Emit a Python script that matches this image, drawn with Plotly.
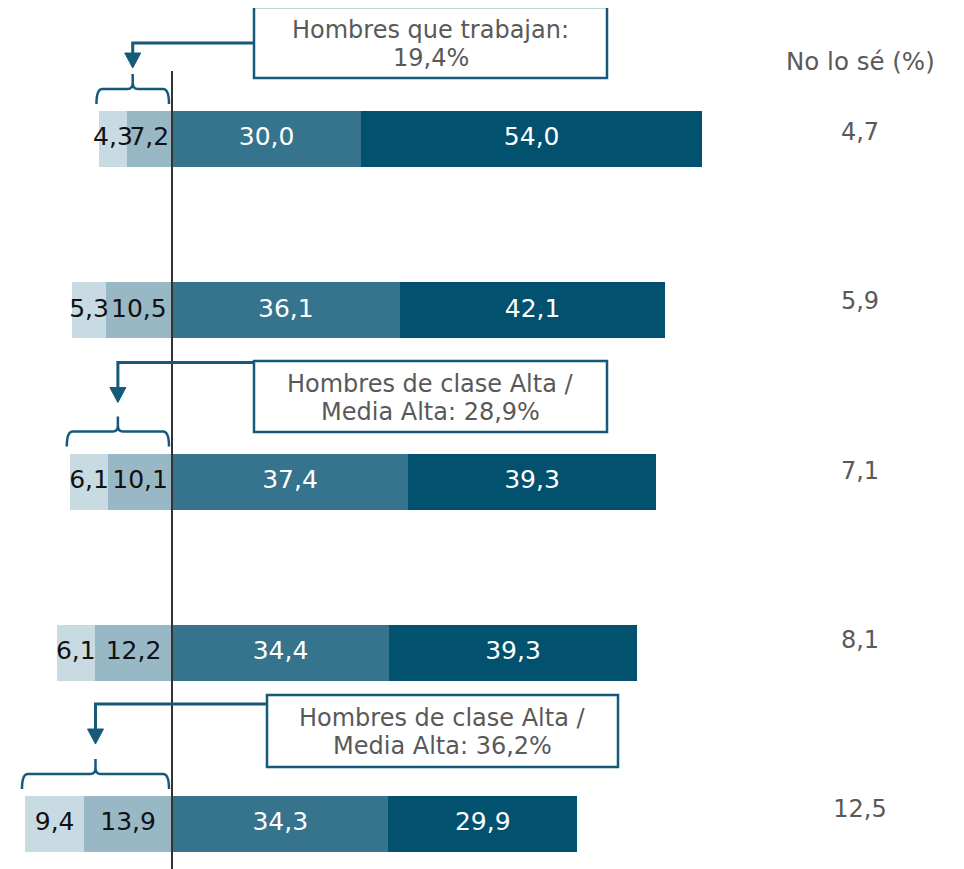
import plotly.graph_objects as go

# ---------------- data ----------------
rows = ["r1", "r2", "r3", "r4", "r5"]
neg_outer = [4.3, 5.3, 6.1, 6.1, 9.4]      # lightest segment (far left)
neg_inner = [7.2, 10.5, 10.1, 12.2, 13.9]  # light segment next to zero
pos_inner = [30.0, 36.1, 37.4, 34.4, 34.3] # mid segment
pos_outer = [54.0, 42.1, 39.3, 39.3, 29.9] # dark segment
no_lo_se = [4.7, 5.9, 7.1, 8.1, 12.5]
header_text = "No lo sé (%)"
callouts = [
    (0, ["Hombres que trabajan:", "19,4%"]),
    (2, ["Hombres de clase Alta /", "Media Alta: 28,9%"]),
    (4, ["Hombres de clase Alta /", "Media Alta: 36,2%"]),
]

# ---------------- style ----------------
C_LIGHTEST = "#C9DBE2"
C_LIGHT = "#99B8C6"
C_MID = "#36738D"
C_DARK = "#02516F"
C_LINE = "#155B79"
C_TEXT = "#595959"
FONT = "DejaVu Sans"

W, H = 964, 869
PAGE_OFF = 8                        # default body margin of the html page
X0_PX, SCALE = 172.0, 6.31          # zero line position (page px) and px per unit
Y0_PX, ROW_PX = 139.0, 171.25       # first row centre (page px) and row spacing

def px_x(p):
    return (p - X0_PX) / SCALE

def px_y(p):
    return (p - Y0_PX) / ROW_PX

def fmt(v):
    return f"{v:.1f}".replace(".", ",")

yidx = list(range(len(rows)))
fig = go.Figure()

bar_w = 56 / ROW_PX
for vals, col, sign in [(neg_inner, C_LIGHT, -1), (neg_outer, C_LIGHTEST, -1),
                        (pos_inner, C_MID, 1), (pos_outer, C_DARK, 1)]:
    fig.add_trace(go.Bar(y=yidx, x=[sign * v for v in vals], orientation="h",
                         marker=dict(color=col, line=dict(width=0)),
                         width=bar_w, hoverinfo="skip", showlegend=False))

# segment labels
lx, ly, lt, lc = [], [], [], []
for i in yidx:
    segs = [(-neg_inner[i] - neg_outer[i] / 2, neg_outer[i], "#111111"),
            (-neg_inner[i] / 2, neg_inner[i], "#111111"),
            (pos_inner[i] / 2, pos_inner[i], "white"),
            (pos_inner[i] + pos_outer[i] / 2, pos_outer[i], "white")]
    for cx, v, c in segs:
        lx.append(cx); ly.append(i); lt.append(fmt(v)); lc.append(c)
fig.add_trace(go.Scatter(x=lx, y=ly, text=lt, mode="text",
                         textfont=dict(family=FONT, size=25, color=lc),
                         hoverinfo="skip", showlegend=False))

# "No lo sé" column
ns_x = px_x(860)
fig.add_trace(go.Scatter(x=[ns_x] * len(rows), y=[i - 0.03 - 0.011 * i for i in yidx],
                         text=[fmt(v) for v in no_lo_se], mode="text",
                         textfont=dict(family=FONT, size=24, color=C_TEXT),
                         hoverinfo="skip", showlegend=False))
fig.add_annotation(x=ns_x, y=px_y(61), text=header_text, showarrow=False,
                   font=dict(family=FONT, size=24.5, color=C_TEXT))

shapes = []
# zero line
shapes.append(dict(type="line", x0=0, x1=0, y0=px_y(71), y1=px_y(H + 20),
                   line=dict(color="#333333", width=2), layer="above"))

# callout geometry (page pixel boxes) per row
box_px = {0: (254, 7, 607, 78), 2: (254, 361, 607, 432), 4: (267, 695, 618, 767)}
line_off = {0: 96, 2: 119, 4: 120}   # arrow line height above row centre
tip_off = {0: 71, 2: 79, 4: 80}

for i, lines in callouts:
    c = Y0_PX + i * ROW_PX
    total = neg_inner[i] + neg_outer[i]
    xl_px = X0_PX - total * SCALE - 3
    xr_px = X0_PX - 3
    xc_px = (xl_px + xr_px) / 2
    yE, yH, yN = c - 35, c - 50, c - 65
    pts = [("M", xl_px, yE), ("Q", xl_px, yH, xl_px + 6, yH), ("L", xc_px - 5, yH),
           ("Q", xc_px, yH, xc_px, yH - 6), ("L", xc_px, yN), ("L", xc_px, yH - 6),
           ("Q", xc_px, yH, xc_px + 5, yH), ("L", xr_px - 6, yH),
           ("Q", xr_px, yH, xr_px, yE)]
    path = ""
    for p in pts:
        if p[0] == "Q":
            path += f"Q{px_x(p[1])},{px_y(p[2])} {px_x(p[3])},{px_y(p[4])} "
        else:
            path += f"{p[0]}{px_x(p[1])},{px_y(p[2])} "
    shapes.append(dict(type="path", path=path, xref="x", yref="y",
                       line=dict(color=C_LINE, width=2.5), layer="above"))
    bx0, by0, bx1, by1 = box_px[i]
    yl = c - line_off[i]
    tip = c - tip_off[i]
    head_top = tip - 15
    shapes.append(dict(type="path",
                       path=f"M{px_x(bx0)},{px_y(yl)} L{px_x(xc_px)},{px_y(yl)} L{px_x(xc_px)},{px_y(head_top)}",
                       line=dict(color=C_LINE, width=3), layer="above"))
    shapes.append(dict(type="path",
                       path=f"M{px_x(xc_px - 8)},{px_y(head_top)} L{px_x(xc_px + 8)},{px_y(head_top)} L{px_x(xc_px)},{px_y(tip)} Z",
                       fillcolor=C_LINE, line=dict(color=C_LINE, width=1), layer="above"))
    shapes.append(dict(type="rect", x0=px_x(bx0), x1=px_x(bx1), y0=px_y(by0), y1=px_y(by1),
                       fillcolor="white", line=dict(color=C_LINE, width=2.5), layer="above"))
    cy = (by0 + by1) / 2
    for k, t in enumerate(lines):
        fig.add_annotation(x=px_x((bx0 + bx1) / 2), y=px_y(cy - 13 + 28 * k), text=t,
                           showarrow=False, align="center",
                           font=dict(family=FONT, size=24, color=C_TEXT))

fig.update_layout(
    width=W, height=H, margin=dict(l=0, r=0, t=0, b=0),
    paper_bgcolor="white", plot_bgcolor="white",
    barmode="relative", bargap=0, shapes=shapes,
    xaxis=dict(range=[px_x(PAGE_OFF), px_x(PAGE_OFF + W)], visible=False, fixedrange=True),
    yaxis=dict(range=[px_y(PAGE_OFF + H), px_y(PAGE_OFF)], visible=False, fixedrange=True),
    showlegend=False,
)
fig.write_html("out.html")
